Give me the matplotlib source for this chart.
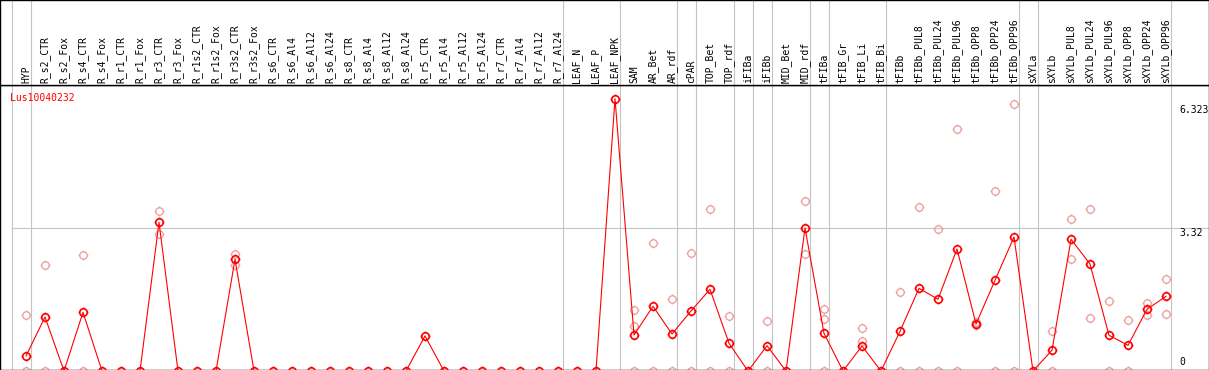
import matplotlib
matplotlib.use("Agg")
import matplotlib.pyplot as plt
from matplotlib.path import Path
import numpy as np

# sample names along the x axis
samples = ["HYP", "R_s2_CTR", "R_s2_Fox", "R_s4_CTR", "R_s4_Fox", "R_r1_CTR", "R_r1_Fox",
           "R_r3_CTR", "R_r3_Fox", "R_r1s2_CTR", "R_r1s2_Fox", "R_r3s2_CTR", "R_r3s2_Fox",
           "R_s6_CTR", "R_s6_Al4", "R_s6_Al12", "R_s6_Al24", "R_s8_CTR", "R_s8_Al4",
           "R_s8_Al12", "R_s8_Al24", "R_r5_CTR", "R_r5_Al4", "R_r5_Al12", "R_r5_Al24",
           "R_r7_CTR", "R_r7_Al4", "R_r7_Al12", "R_r7_Al24", "LEAF_N", "LEAF_P", "LEAF_NPK",
           "SAM", "AR_Bet", "AR_rdf", "cPAR", "TOP_Bet", "TOP_rdf", "iFIBa", "iFIBb",
           "MID_Bet", "MID_rdf", "tFIBa", "tFIB_Gr", "tFIB_Li", "tFIB_Bi", "tFIBb",
           "tFIBb_PUL8", "tFIBb_PUL24", "tFIBb_PUL96", "tFIBb_OPP8", "tFIBb_OPP24",
           "tFIBb_OPP96", "sXYLa", "sXYLb", "sXYLb_PUL8", "sXYLb_PUL24", "sXYLb_PUL96",
           "sXYLb_OPP8", "sXYLb_OPP24", "sXYLb_OPP96"]

# number of samples in each tissue group (separators drawn after each group)
group_sizes = [1, 28, 3, 3, 1, 2, 1, 1, 2, 1, 3, 7, 1, 7]

# mean expression per sample
means = [0.348, 1.254, 0, 1.363, 0, 0, 0,
         3.453, 0, 0, 0, 2.593, 0,
         0, 0, 0, 0, 0, 0,
         0, 0, 0.813, 0, 0, 0,
         0, 0, 0, 0, 0, 0, 6.323,
         0.836, 1.502, 0.859, 1.393, 1.897, 0.643, 0, 0.587,
         0, 3.32, 0.875, 0, 0.580, 0, 0.922,
         1.920, 1.665, 2.833, 1.091, 2.106,
         3.111, 0, 0.481, 3.058, 2.484, 0.829,
         0.596, 1.433, 1.734]

# individual replicates
replicates = [[1.293, 0], [2.454, 0], [], [2.686, 0], [], [], [],
              [3.708, 3.174], [], [], [], [2.710, 2.454], [],
              [], [], [], [], [], [],
              [], [], [], [], [], [],
              [], [], [], [], [], [], [],
              [1.416, 1.045, 0], [2.965, 0], [1.665, 0], [2.740, 0], [3.754, 0], [1.270, 0], [], [1.161, 0],
              [], [3.940, 2.717], [1.433, 1.200, 0], [], [0.998, 0.690], [], [1.834, 0],
              [3.801, 0], [3.290, 0], [5.612, 0], [1.145, 1.068, 1.06], [4.172, 0],
              [6.192, 0], [], [0.929, 0], [3.522, 2.593], [3.754, 1.224], [1.618, 0],
              [1.184, 0], [1.579, 1.293], [2.129, 1.323]]

gene = "Lus10040232"
ref_values = [6.323, 3.32, 0]

W, H = 1209, 370
fig = plt.figure(figsize=(W / 100, H / 100), dpi=100)
head_h = 85
ax = fig.add_axes([0, 0, 1, (H - head_h) / H])
hax = fig.add_axes([0, (H - head_h) / H, 1, head_h / H])

x = np.arange(len(samples))
xlim = (-26 / 19, (W - 26) / 19)
y0, ppu = 371, 43.07
ax.set_xlim(xlim)
ax.set_ylim((y0 - 370) / ppu, (y0 - head_h) / ppu)
hax.set_xlim(xlim)
hax.set_ylim(head_h, 0)

for a in (ax, hax):
    a.set_xticks([])
    a.set_yticks([])
    for s in a.spines.values():
        s.set_color("black")
        s.set_linewidth(1.0)

grey = "#c4c4c4"
bounds = np.cumsum([0] + group_sizes) - 1 + 0.237
for b in bounds:
    ax.axvline(b, color=grey, lw=0.8, zorder=1)
    hax.axvline(b, color=grey, lw=0.8, zorder=1)
ax.axhline(3.32, xmin=(bounds[0] - xlim[0]) / (xlim[1] - xlim[0]), color=grey, lw=0.8, zorder=1)

# circle marker with little ticks
circ = Path.unit_circle()
stub_v = [(0, 1), (0, 1.3), (0, -1), (0, -1.3), (1, 0), (1.3, 0), (-1, 0), (-1.3, 0)]
stub_c = [Path.MOVETO, Path.LINETO] * 4
mk = Path.make_compound_path(circ, Path(stub_v, stub_c))

rx = [i for i, r in enumerate(replicates) for _ in r]
ry = [v for r in replicates for v in r]
ax.plot(rx, ry, ls="none", marker=mk, ms=7, mfc="none", mec="#ee9a9a", mew=0.9, zorder=2)
ax.plot(x, means, color="red", lw=0.8, zorder=3)
ax.plot(x, means, ls="none", marker=mk, ms=7, mfc="none", mec="red", mew=1.2, zorder=4)

mono = "DejaVu Sans Mono"
for i, name in enumerate(samples):
    hax.text(i, 83, name, rotation=90, ha="center", va="bottom", fontsize=7, family=mono)

ax.text(10 / W, (H - 98) / (H - head_h), gene, transform=ax.transAxes, color="red",
        fontsize=7, family=mono, ha="left", va="center")

offs = [-8.1, -3.6, 6.5]
for v, o in zip(ref_values, offs):
    ax.annotate(f"{v:g}", xy=(1179 / W, v), xycoords=("axes fraction", "data"),
                xytext=(0, o), textcoords="offset points", fontsize=7, family=mono,
                ha="left", va="center")

fig.savefig("out.png", dpi=100)
